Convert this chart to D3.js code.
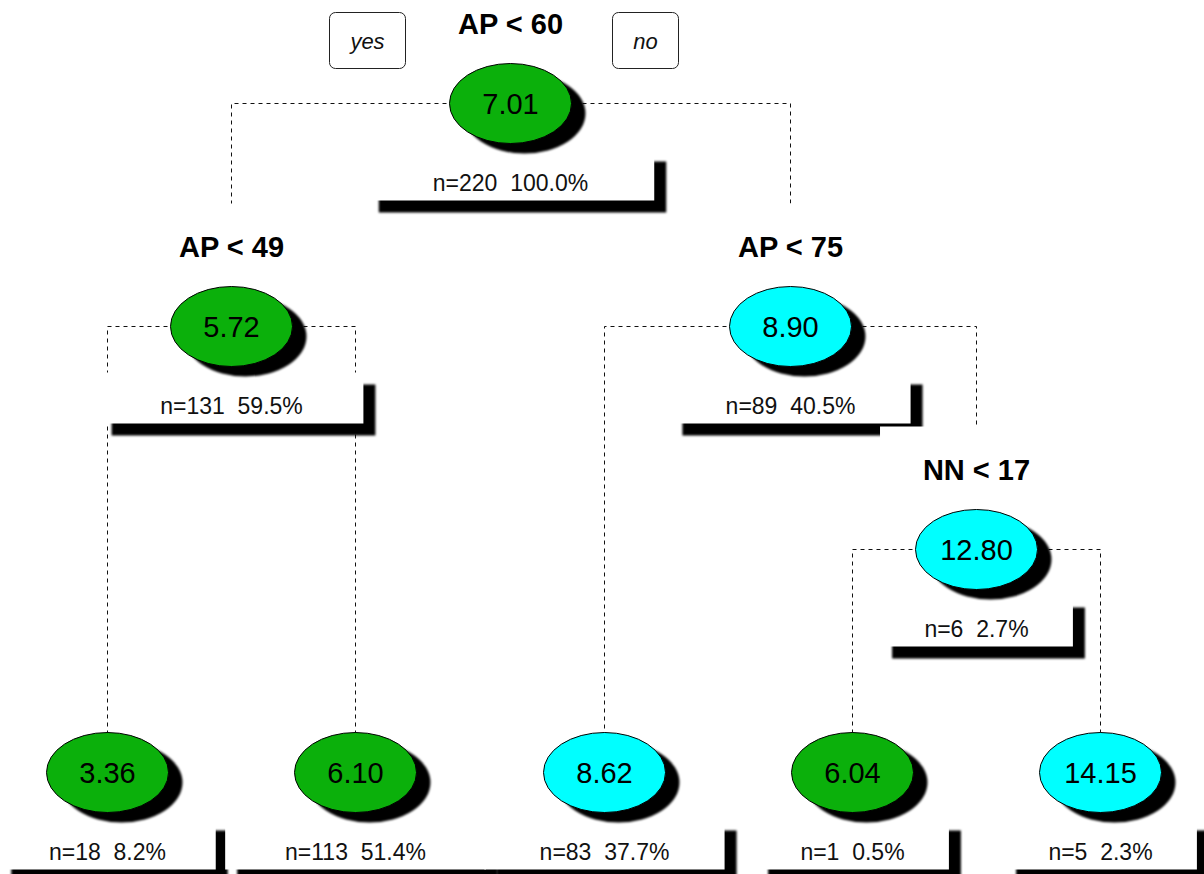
<!DOCTYPE html>
<html>
<head>
<meta charset="utf-8">
<script src="https://cdn.jsdelivr.net/npm/d3@7"></script>
<style>
  body { margin: 0; background: #fff; }
  svg { display: block; }
  text { font-family: "Liberation Sans", Arial, sans-serif; }
</style>
</head>
<body>
<svg id="chart" width="1204" height="874"></svg>
<script>
// Regression tree: node ids (pre-order), parents, split rules and node summaries
const nodeIds     = ["n1", "n2", "n4", "n5", "n3", "n6", "n7", "n14", "n15"];
const parentIds   = ["",   "n1", "n2", "n2", "n1", "n3", "n3", "n7",  "n7"];
const splitLabels = ["AP < 60", "AP < 49", "", "", "AP < 75", "", "NN < 17", "", ""];
const meanValues  = [7.01, 5.72, 3.36, 6.10, 8.90, 8.62, 12.80, 6.04, 14.15];
const counts      = [220, 131, 18, 113, 89, 83, 6, 1, 5];
const percents    = [100.0, 59.5, 8.2, 51.4, 40.5, 37.7, 2.7, 0.5, 2.3];
const branchLabels = ["yes", "no"];

const svg = d3.select("#chart");
const defs = svg.append("defs");
defs.append("filter").attr("id", "soft")
  .attr("x", "-10%").attr("y", "-10%").attr("width", "120%").attr("height", "120%")
  .append("feGaussianBlur").attr("stdDeviation", 1.3);

const table = nodeIds.map((id, i) => ({
  id, parent: parentIds[i] || null, split: splitLabels[i],
  value: meanValues[i], n: counts[i], pct: percents[i]
}));
const root = d3.stratify().id(d => d.id).parentId(d => d.parent)(table);
d3.cluster().size([1, 1]).separation(() => 1)(root);

const maxDepth = d3.max(root.leaves(), d => d.depth);
const x = d3.scaleLinear().domain(d3.extent(root.leaves(), d => d.x)).range([107, 1100]);
const y = d3.scaleLinear().domain([0, maxDepth]).range([103, 772]);
const fill = d3.scaleThreshold().domain([8]).range(["#0bb00b", "#00ffff"]);

root.each(d => {
  d.px = Math.round(x(d.x)) + 0.5;
  d.py = Math.round(y(d.children ? d.depth : maxDepth)) + 0.5;
});

// dashed elbow connectors
svg.append("g").selectAll("path")
  .data(root.descendants().filter(d => d.parent))
  .join("path")
  .attr("d", d => `M${d.parent.px},${d.parent.py}H${d.px}V${d.py}`)
  .attr("fill", "none")
  .attr("stroke", "#111")
  .attr("stroke-width", 1)
  .attr("stroke-dasharray", "4,4");

// nodes in pre-order so later boxes overlap earlier shadows
const ordered = [];
root.eachBefore(d => ordered.push(d));

const nodes = svg.append("g").selectAll("g")
  .data(ordered)
  .join("g");

nodes.each(function (d) {
  const g = d3.select(this);

  // count / percent box with drop shadow
  const boxG = g.append("g");
  const shadow = boxG.append("rect").attr("fill", "#000").attr("filter", "url(#soft)");
  const box = boxG.append("rect").attr("fill", "#fff");
  const t = boxG.append("text")
    .attr("x", d.px).attr("y", d.py + 87)
    .attr("text-anchor", "middle")
    .attr("font-size", 23)
    .attr("fill", "#111")
    .attr("xml:space", "preserve")
    .text(`n=${d.data.n}  ${d.data.pct.toFixed(1)}%`);
  const tw = t.node().getComputedTextLength();
  const hw = tw * 0.925;
  const top = d.py + 46, bottom = d.py + 97;
  box.attr("x", d.px - hw).attr("y", top).attr("width", 2 * hw).attr("height", bottom - top);
  shadow.attr("x", d.px - hw + 12).attr("y", top + 12).attr("width", 2 * hw).attr("height", bottom - top);

  // split rule above the node
  if (d.data.split) {
    const sG = g.append("g");
    const sBox = sG.append("rect").attr("fill", "#fff");
    const s = sG.append("text")
      .attr("x", d.px).attr("y", d.py - 70)
      .attr("text-anchor", "middle")
      .attr("font-size", 29)
      .attr("font-weight", "bold")
      .attr("fill", "#000")
      .text(d.data.split);
    const sw = s.node().getComputedTextLength() * 0.9;
    sBox.attr("x", d.px - sw).attr("y", d.py - 123).attr("width", 2 * sw).attr("height", 88);
  }

  // ellipse with shadow
  g.append("ellipse")
    .attr("cx", d.px + 14).attr("cy", d.py + 10)
    .attr("rx", 61).attr("ry", 40)
    .attr("fill", "#000").attr("filter", "url(#soft)");
  g.append("ellipse")
    .attr("cx", d.px).attr("cy", d.py)
    .attr("rx", 61).attr("ry", 40)
    .attr("fill", fill(d.data.value))
    .attr("stroke", "#000").attr("stroke-width", 1);
  g.append("text")
    .attr("x", d.px).attr("y", d.py + 10.5)
    .attr("text-anchor", "middle")
    .attr("font-size", 29)
    .attr("fill", "#000")
    .text(d.data.value.toFixed(2));
});

// yes / no branch tags beside the root split
const tagOffsets = [-143, 135];
branchLabels.forEach((lab, i) => {
  const cx = root.px + tagOffsets[i];
  const g = svg.append("g");
  const r = g.append("rect").attr("fill", "#fff").attr("stroke", "#222").attr("stroke-width", 1)
    .attr("rx", 6).attr("ry", 6);
  const t = g.append("text")
    .attr("x", cx).attr("y", 49)
    .attr("text-anchor", "middle")
    .attr("font-size", 22)
    .attr("font-style", "italic")
    .attr("fill", "#111")
    .text(lab);
  const w = t.node().getComputedTextLength() + 42;
  r.attr("x", Math.round(cx - w / 2) + 0.5).attr("y", 12.5).attr("width", Math.round(w)).attr("height", 56);
});
</script>
</body>
</html>
